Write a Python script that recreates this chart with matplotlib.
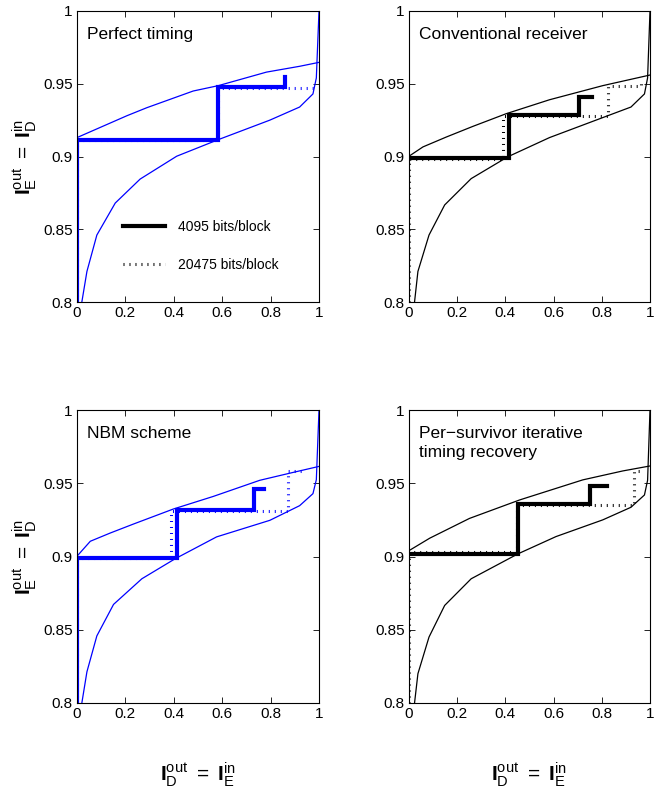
import matplotlib
matplotlib.use("Agg")
import matplotlib.pyplot as plt
from matplotlib.lines import Line2D
from matplotlib.ticker import FormatStrFormatter

FONT = ['Liberation Sans', 'DejaVu Sans']
plt.rcParams['font.family'] = FONT
plt.rcParams['mathtext.fontset'] = 'custom'
plt.rcParams['mathtext.rm'] = 'Liberation Sans'
plt.rcParams['mathtext.it'] = 'Liberation Sans'
plt.rcParams['mathtext.bf'] = 'Liberation Sans:bold'

# ---------------- data ----------------
titles = ["Perfect timing", "Conventional receiver", "NBM scheme",
          "Per\u2212survivor iterative\ntiming recovery"]
colors = ["#0000ff", "black", "#0000ff", "black"]

# Panel 1: perfect timing
p1_up_x = [0, 0.206, 0.288, 0.48, 0.584, 0.783, 0.92, 1.0]
p1_up_y = [0.913, 0.928, 0.9335, 0.945, 0.9487, 0.958, 0.962, 0.9647]
p1_lo_x = [0.02, 0.041, 0.082, 0.158, 0.261, 0.412, 0.584, 0.797, 0.92, 0.975, 0.989, 1.0]
p1_lo_y = [0.8, 0.821, 0.846, 0.868, 0.8845, 0.9002, 0.9116, 0.925, 0.934, 0.943, 0.954, 1.0]
p1_thick_x = [0, 0, 0.584, 0.584, 0.861, 0.861]
p1_thick_y = [0.8, 0.9116, 0.9116, 0.948, 0.948, 0.9544]
p1_dot_x = [0, 0, 0.584, 0.584, 0.982]
p1_dot_y = [0.8, 0.911, 0.911, 0.947, 0.947]

# Panel 2: conventional receiver
p2_up_x = [0, 0.058, 0.155, 0.265, 0.403, 0.583, 0.804, 1.0]
p2_up_y = [0.9002, 0.9066, 0.9134, 0.9207, 0.9294, 0.939, 0.9487, 0.956]
p2_lo_x = [0.023, 0.037, 0.083, 0.148, 0.258, 0.41, 0.583, 0.776, 0.921, 0.977, 0.99, 1.0]
p2_lo_y = [0.8, 0.821, 0.846, 0.8667, 0.8848, 0.8998, 0.913, 0.925, 0.934, 0.943, 0.954, 1.0]
p2_thick_x = [0, 0.414, 0.414, 0.707, 0.707, 0.76]
p2_thick_y = [0.899, 0.899, 0.9287, 0.9287, 0.9408, 0.9408]
p2_dot_x = [0, 0, 0.39, 0.39, 0.825, 0.825, 0.963, 0.963]
p2_dot_y = [0.8, 0.8986, 0.8986, 0.9276, 0.9276, 0.9487, 0.9487, 0.952]

# Panel 3: NBM scheme
p3_up_x = [0, 0.055, 0.137, 0.234, 0.398, 0.563, 0.755, 0.893, 1.0]
p3_up_y = [0.9002, 0.9104, 0.916, 0.9222, 0.9324, 0.941, 0.952, 0.9574, 0.9615]
p3_lo_x = [0.02, 0.041, 0.082, 0.151, 0.268, 0.405, 0.577, 0.797, 0.92, 0.975, 0.989, 1.0]
p3_lo_y = [0.8, 0.8213, 0.8458, 0.8673, 0.8848, 0.8984, 0.9134, 0.9247, 0.9347, 0.9429, 0.9524, 1.0]
p3_thick_x = [0, 0, 0.412, 0.412, 0.732, 0.732, 0.773]
p3_thick_y = [0.8, 0.899, 0.899, 0.932, 0.932, 0.9463, 0.9463]
p3_dot_x = [0, 0, 0.389, 0.389, 0.873, 0.873, 0.948]
p3_dot_y = [0.8, 0.899, 0.899, 0.9313, 0.9313, 0.9587, 0.9587]

# Panel 4: per-survivor iterative timing recovery
p4_up_x = [0, 0.086, 0.251, 0.459, 0.721, 0.887, 1.0]
p4_up_y = [0.904, 0.9125, 0.926, 0.9386, 0.9523, 0.9584, 0.9618]
p4_lo_x = [0.023, 0.037, 0.083, 0.148, 0.258, 0.452, 0.61, 0.804, 0.921, 0.977, 0.99, 1.0]
p4_lo_y = [0.8, 0.820, 0.845, 0.8666, 0.8848, 0.9018, 0.9136, 0.925, 0.9336, 0.942, 0.952, 1.0]
p4_thick_x = [0, 0.452, 0.452, 0.749, 0.749, 0.82]
p4_thick_y = [0.9018, 0.9018, 0.9357, 0.9357, 0.9482, 0.9482]
p4_dot_x = [0, 0, 0.449, 0.449, 0.935, 0.935, 0.975]
p4_dot_y = [0.8, 0.9034, 0.9034, 0.935, 0.935, 0.9586, 0.9586]

legend_labels = ["4095 bits/block", "20475 bits/block"]
x_ticks = [0, 0.2, 0.4, 0.6, 0.8, 1.0]
y_ticks = [0.8, 0.85, 0.9, 0.95, 1.0]

panels = [
    (p1_up_x, p1_up_y, p1_lo_x, p1_lo_y, p1_thick_x, p1_thick_y, p1_dot_x, p1_dot_y),
    (p2_up_x, p2_up_y, p2_lo_x, p2_lo_y, p2_thick_x, p2_thick_y, p2_dot_x, p2_dot_y),
    (p3_up_x, p3_up_y, p3_lo_x, p3_lo_y, p3_thick_x, p3_thick_y, p3_dot_x, p3_dot_y),
    (p4_up_x, p4_up_y, p4_lo_x, p4_lo_y, p4_thick_x, p4_thick_y, p4_dot_x, p4_dot_y),
]

# ---------------- figure ----------------
fig = plt.figure(figsize=(6.72, 7.93), dpi=100)
W, H = 672, 793
boxes = [(77, 11, 242, 291), (409, 11, 241, 291),
         (77, 410, 242, 293), (409, 410, 241, 293)]

ylab = r'$\mathbf{I}_{\mathregular{E}}^{\mathregular{out}}\mathregular{\ =\ }\mathbf{I}_{\mathregular{D}}^{\mathregular{in}}$'
xlab = r'$\mathbf{I}_{\mathregular{D}}^{\mathregular{out}}\mathregular{\ =\ }\mathbf{I}_{\mathregular{E}}^{\mathregular{in}}$'

DOT = (0, (0.33, 1.63))

for i, (box, data) in enumerate(zip(boxes, panels)):
    l, t, w, h = box
    ax = fig.add_axes([l / W, 1 - (t + h) / H, w / W, h / H])
    ux, uy, lx, ly, tx, ty, dx, dy = data
    c = colors[i]
    ax.plot(ux, uy, color=c, lw=0.9)
    ax.plot(lx, ly, color=c, lw=0.9)
    ax.plot(dx, dy, color=c, lw=2.2, linestyle=DOT, dash_capstyle='butt')
    ax.plot(tx, ty, color=c, lw=3.0, solid_joinstyle='miter')
    ax.set_xlim(0, 1)
    ax.set_ylim(0.8, 1)
    ax.set_xticks(x_ticks)
    ax.set_yticks(y_ticks)
    ax.xaxis.set_major_formatter(FormatStrFormatter('%g'))
    ax.yaxis.set_major_formatter(FormatStrFormatter('%g'))
    ax.tick_params(direction='in', top=True, right=True, length=4,
                   width=0.6, labelsize=11, pad=3)
    for s in ax.spines.values():
        s.set_linewidth(0.8)
    ax.text(0.041, 0.945, titles[i], transform=ax.transAxes, ha='left',
            va='top', fontsize=12.5, linespacing=1.3)
    if i % 2 == 0:
        ax.set_ylabel(ylab, fontsize=15, labelpad=3)
    if i >= 2:
        ax.set_xlabel(xlab, fontsize=15, labelpad=28)
    if i == 0:
        handles = [Line2D([], [], color='black', lw=3.0),
                   Line2D([], [], color='black', lw=2.2, linestyle=DOT,
                          dash_capstyle='butt')]
        ax.legend(handles, legend_labels, loc='upper left',
                  bbox_to_anchor=(0.14, 0.325), frameon=False, fontsize=10,
                  handlelength=3.0, handletextpad=0.9, labelspacing=1.75)

fig.savefig("out.png", dpi=100)
